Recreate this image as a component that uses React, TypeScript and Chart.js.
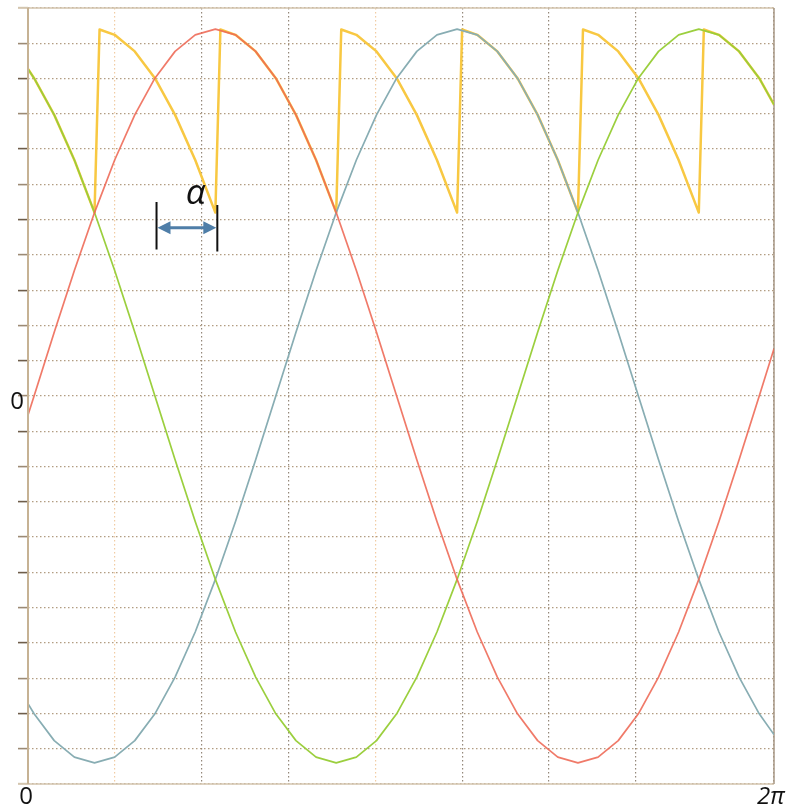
import { useEffect, useRef } from "react";
import { Chart, registerables } from "chart.js";

Chart.register(...registerables);

// Time axis in milliseconds (60 Hz supply, grid every 2 ms)
const X_MAX = 17.18;
const X_STEP = 2;
const Y_MIN = -11;
const Y_MAX = 11;

// Sample instants shared by the three phase voltages
const sampleTimes = [
  0, 0.14, 0.604, 1.068, 1.532, 1.996, 2.459, 2.923, 3.387, 3.851, 4.315, 4.779, 5.243,
  5.707, 6.171, 6.634, 7.098, 7.562, 8.026, 8.49, 8.954, 9.418, 9.882, 10.346, 10.809,
  11.273, 11.737, 12.201, 12.665, 13.129, 13.593, 14.057, 14.521, 14.984, 15.448, 15.912,
  16.376, 16.84, 17.18,
];

const phaseA = [
  -0.54, 0, 1.81, 3.56, 5.2, 6.69, 7.97, 9.01, 9.77, 10.24, 10.4, 10.24, 9.77, 9.01, 7.97,
  6.69, 5.2, 3.56, 1.81, 0, -1.81, -3.56, -5.2, -6.69, -7.97, -9.01, -9.77, -10.24, -10.4,
  -10.24, -9.77, -9.01, -7.97, -6.69, -5.2, -3.56, -1.81, 0, 1.34,
];

const phaseB = [
  9.27, 9.01, 7.97, 6.69, 5.2, 3.56, 1.81, 0, -1.81, -3.56, -5.2, -6.69, -7.97, -9.01,
  -9.77, -10.24, -10.4, -10.24, -9.77, -9.01, -7.97, -6.69, -5.2, -3.56, -1.81, 0, 1.81,
  3.56, 5.2, 6.69, 7.97, 9.01, 9.77, 10.24, 10.4, 10.24, 9.77, 9.01, 8.26,
];

const phaseC = [
  -8.72, -9.01, -9.77, -10.24, -10.4, -10.24, -9.77, -9.01, -7.97, -6.69, -5.2, -3.56,
  -1.81, 0, 1.81, 3.56, 5.2, 6.69, 7.97, 9.01, 9.77, 10.24, 10.4, 10.24, 9.77, 9.01, 7.97,
  6.69, 5.2, 3.56, 1.81, 0, -1.81, -3.56, -5.2, -6.69, -7.97, -9.01, -9.6,
];

// Rectifier output: each segment starts at a firing instant
const outputTimes = [
  0, 0.14, 0.604, 1.068, 1.532, 1.648, 1.996, 2.459, 2.923, 3.387, 3.851, 4.315, 4.431,
  4.779, 5.243, 5.707, 6.171, 6.634, 7.098, 7.214, 7.562, 8.026, 8.49, 8.954, 9.418, 9.882,
  9.998, 10.346, 10.809, 11.273, 11.737, 12.201, 12.665, 12.781, 13.129, 13.593, 14.057,
  14.521, 14.984, 15.448, 15.564, 15.912, 16.376, 16.84, 17.18,
];

const outputValues = [
  9.27, 9.01, 7.97, 6.69, 5.2, 10.39, 10.24, 9.77, 9.01, 7.97, 6.69, 5.2, 10.39, 10.24,
  9.77, 9.01, 7.97, 6.69, 5.2, 10.39, 10.24, 9.77, 9.01, 7.97, 6.69, 5.2, 10.39, 10.24,
  9.77, 9.01, 7.97, 6.69, 5.2, 10.39, 10.24, 9.77, 9.01, 7.97, 6.69, 5.2, 10.39, 10.24,
  9.77, 9.01, 8.26,
];

// Firing-delay marker: natural commutation to firing instant
const alphaFrom = 2.96;
const alphaTo = 4.36;
const alphaArrowLevel = 4.77;
const alphaBarTop = 5.5;
const alphaBarBottom = 4.15;
const alphaLabelPos = { x: 3.86, y: 5.65 };

const FONT = '"Open Sans", "DejaVu Sans", sans-serif';

const overlayPlugin = {
  id: "overlay",
  beforeDatasetsDraw(chart: any) {
    const { ctx, chartArea: a } = chart;
    ctx.save();
    ctx.setLineDash([]);
    ctx.lineWidth = 1.5;
    // top and bottom frame lines (extend over the tick marks)
    ctx.strokeStyle = "#d3c5ae";
    ctx.beginPath();
    ctx.moveTo(a.left - 10, a.top);
    ctx.lineTo(a.right, a.top);
    ctx.moveTo(a.left - 10, a.bottom);
    ctx.lineTo(a.right, a.bottom);
    ctx.stroke();
    // right frame line
    ctx.strokeStyle = "#a89886";
    ctx.beginPath();
    ctx.moveTo(a.right, a.top);
    ctx.lineTo(a.right, a.bottom);
    ctx.stroke();
    ctx.restore();
  },
  afterDatasetsDraw(chart: any) {
    const { ctx, chartArea: a, scales } = chart;
    const xs = scales.x;
    const ys = scales.y;
    ctx.save();
    // vertical axis line
    ctx.strokeStyle = "#c6b294";
    ctx.lineWidth = 2;
    ctx.beginPath();
    ctx.moveTo(a.left, a.top);
    ctx.lineTo(a.left, a.bottom);
    ctx.stroke();

    // axis labels
    ctx.fillStyle = "#111";
    ctx.textBaseline = "middle";
    ctx.font = `24px ${FONT}`;
    ctx.textAlign = "center";
    ctx.fillText("0", xs.getPixelForValue(0) - 2, a.bottom + 13);
    ctx.textAlign = "right";
    ctx.fillText("0", a.left - 4, ys.getPixelForValue(0) + 6);
    ctx.font = `italic 24px ${FONT}`;
    ctx.textAlign = "center";
    ctx.fillText("2\u03c0", xs.getPixelForValue(X_MAX) - 3, a.bottom + 13);

    // firing angle marker
    const x1 = xs.getPixelForValue(alphaFrom);
    const x2 = xs.getPixelForValue(alphaTo);
    const yA = ys.getPixelForValue(alphaArrowLevel);
    const yT = ys.getPixelForValue(alphaBarTop);
    const yB = ys.getPixelForValue(alphaBarBottom);
    ctx.strokeStyle = "#111";
    ctx.lineWidth = 2;
    ctx.beginPath();
    ctx.moveTo(x1, yT);
    ctx.lineTo(x1, yB);
    ctx.moveTo(x2, yT + 3);
    ctx.lineTo(x2, yB + 2);
    ctx.stroke();

    const head = 13;
    const half = 6.5;
    ctx.strokeStyle = "#4f7ea8";
    ctx.fillStyle = "#4f7ea8";
    ctx.lineWidth = 3;
    ctx.beginPath();
    ctx.moveTo(x1 + head - 2, yA);
    ctx.lineTo(x2 - head + 2, yA);
    ctx.stroke();
    ctx.beginPath();
    ctx.moveTo(x1 + 1, yA);
    ctx.lineTo(x1 + 1 + head, yA - half);
    ctx.lineTo(x1 + 1 + head, yA + half);
    ctx.closePath();
    ctx.fill();
    ctx.beginPath();
    ctx.moveTo(x2 - 1, yA);
    ctx.lineTo(x2 - 1 - head, yA - half);
    ctx.lineTo(x2 - 1 - head, yA + half);
    ctx.closePath();
    ctx.fill();

    ctx.fillStyle = "#111";
    ctx.font = `italic 35px ${FONT}`;
    ctx.textAlign = "center";
    ctx.textBaseline = "middle";
    ctx.fillText("\u03b1", xs.getPixelForValue(alphaLabelPos.x), ys.getPixelForValue(alphaLabelPos.y) - 3);
    ctx.restore();
  },
};

function toPoints(xsArr: number[], ysArr: number[]) {
  return xsArr.map((x, i) => ({ x, y: ysArr[i] }));
}

export default function App() {
  const canvasRef = useRef<HTMLCanvasElement | null>(null);

  useEffect(() => {
    if (!canvasRef.current) return;
    const lineBase = { pointRadius: 0, tension: 0, fill: false, borderJoinStyle: "round" as const };
    const chart = new Chart(canvasRef.current, {
      type: "line",
      data: {
        datasets: [
          { ...lineBase, label: "A", data: toPoints(sampleTimes, phaseA), borderColor: "rgba(238,104,84,0.88)", borderWidth: 1.7 },
          { ...lineBase, label: "B", data: toPoints(sampleTimes, phaseB), borderColor: "rgba(152,205,56,0.97)", borderWidth: 1.7 },
          { ...lineBase, label: "C", data: toPoints(sampleTimes, phaseC), borderColor: "#88adb3", borderWidth: 1.7 },
          { ...lineBase, label: "Ud", data: toPoints(outputTimes, outputValues), borderColor: "#f8c842", borderWidth: 2.5 },
        ],
      },
      plugins: [overlayPlugin],
      options: {
        animation: false,
        responsive: false,
        events: [],
        layout: { padding: { top: 8, right: 13, left: 0, bottom: 0 } },
        plugins: { legend: { display: false }, tooltip: { enabled: false } },
        scales: {
          x: {
            type: "linear",
            min: 0,
            max: X_MAX,
            afterFit: (s: any) => {
              s.height = 23;
            },
            ticks: { display: false, stepSize: X_STEP },
            grid: {
              drawTicks: false,
              lineWidth: 1.2,
              color: (c: any) => (c.index === 1 || c.index === 4 ? "#f1cca3" : "#94887a"),
            },
            border: { display: false, dash: [1.5, 2.5] },
          },
          y: {
            min: Y_MIN,
            max: Y_MAX,
            afterFit: (s: any) => {
              s.width = 28;
            },
            ticks: { display: false, stepSize: 1 },
            grid: {
              lineWidth: 1.2,
              color: "rgba(165,140,108,0.85)",
              drawTicks: true,
              tickLength: 10,
              tickWidth: 1.6,
              tickColor: (c: any) =>
                c.tick && Math.abs(c.tick.value) === Y_MAX ? "#d3c5ae" : c.index % 2 === 0 ? "#6e5d4a" : "#9c8a74",
            },
            border: { display: false, dash: [1.5, 2.5] },
          },
        },
      },
    });
    return () => chart.destroy();
  }, []);

  return (
    <div style={{ position: "fixed", left: 0, top: 0, width: 787, height: 807, background: "#fff" }}>
      <canvas ref={canvasRef} width={787} height={807} style={{ display: "block" }} />
    </div>
  );
}
